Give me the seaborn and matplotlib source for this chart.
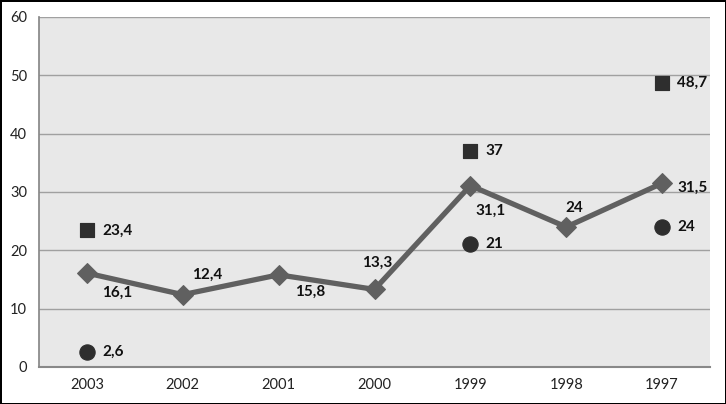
import numpy as np
import pandas as pd
import matplotlib
matplotlib.use("Agg")
import matplotlib.pyplot as plt
import seaborn as sns

# Data
years = ["2003", "2002", "2001", "2000", "1999", "1998", "1997"]
line_values = [16.1, 12.4, 15.8, 13.3, 31.1, 24, 31.5]
square_years = ["2003", "1999", "1997"]
square_values = [23.4, 37, 48.7]
circle_years = ["2003", "1999", "1997"]
circle_values = [2.6, 21, 24]

sns.set_theme(style="white")
plt.rcParams['font.family'] = ['Lato', 'DejaVu Sans']

pos = {y: i for i, y in enumerate(years)}
line_df = pd.DataFrame({"x": [pos[y] for y in years], "value": line_values})
square_df = pd.DataFrame({"x": [pos[y] for y in square_years], "value": square_values})
circle_df = pd.DataFrame({"x": [pos[y] for y in circle_years], "value": circle_values})

fig = plt.figure(figsize=(7.26, 4.04), dpi=100)
fig.patch.set_edgecolor("black")
fig.patch.set_linewidth(2)
ax = fig.add_axes([0.0537, 0.0916, 0.9243, 0.8664])
ax.set_facecolor("#e8e8e8")

sns.lineplot(data=line_df, x="x", y="value", ax=ax, color="#606060", linewidth=3.8,
             marker="D", markersize=10, markeredgecolor="#606060", zorder=3)
sns.scatterplot(data=square_df, x="x", y="value", ax=ax, marker="s", s=110,
                color="#2e2e2e", edgecolor="#2e2e2e", zorder=4)
sns.scatterplot(data=circle_df, x="x", y="value", ax=ax, marker="o", s=120,
                color="#2e2e2e", edgecolor="#2e2e2e", zorder=4)

# line labels (offset in points)
line_offsets = [(11, -14), (7, 14), (12, -12), (2, 19), (4, -18), (6, 14), (11, -3)]
line_ha = ["left", "left", "left", "center", "left", "center", "left"]
for i, v in enumerate(line_values):
    lbl = f"{v:g}".replace(".", ",")
    ax.annotate(lbl, (i, v), xytext=line_offsets[i], textcoords="offset points",
                ha=line_ha[i], va="center", fontsize=11, fontweight="bold", color="#111111")
for df_ in (square_df, circle_df):
    for x, v in zip(df_["x"], df_["value"]):
        lbl = f"{v:g}".replace(".", ",")
        ax.annotate(lbl, (x, v), xytext=(11, 0), textcoords="offset points",
                    ha="left", va="center", fontsize=11, fontweight="bold", color="#111111")

ax.set_xlim(-0.5, len(years) - 0.5)
ax.set_ylim(0, 60)
ax.set_yticks(range(0, 61, 10))
ax.set_xticks(range(len(years)))
ax.set_xticklabels(years)
ax.set_xticks(np.arange(-0.5, len(years), 1), minor=True)
ax.tick_params(axis="x", which="major", length=0, labelsize=10.5, colors="#222222", pad=8)
ax.tick_params(axis="x", which="minor", length=5, color="#888888", direction="out")
ax.tick_params(axis="y", length=5, color="#888888", labelsize=10.5, labelcolor="#222222")
ax.yaxis.grid(True, color="#a0a0a0", linewidth=1)
ax.set_axisbelow(True)
ax.set_xlabel("")
ax.set_ylabel("")
for s in ("top", "right"):
    ax.spines[s].set_visible(False)
ax.spines["left"].set_color("#888888")
ax.spines["bottom"].set_color("#888888")
ax.spines["bottom"].set_linewidth(1.5)

fig.savefig("out.png", dpi=100, edgecolor=fig.get_edgecolor())
